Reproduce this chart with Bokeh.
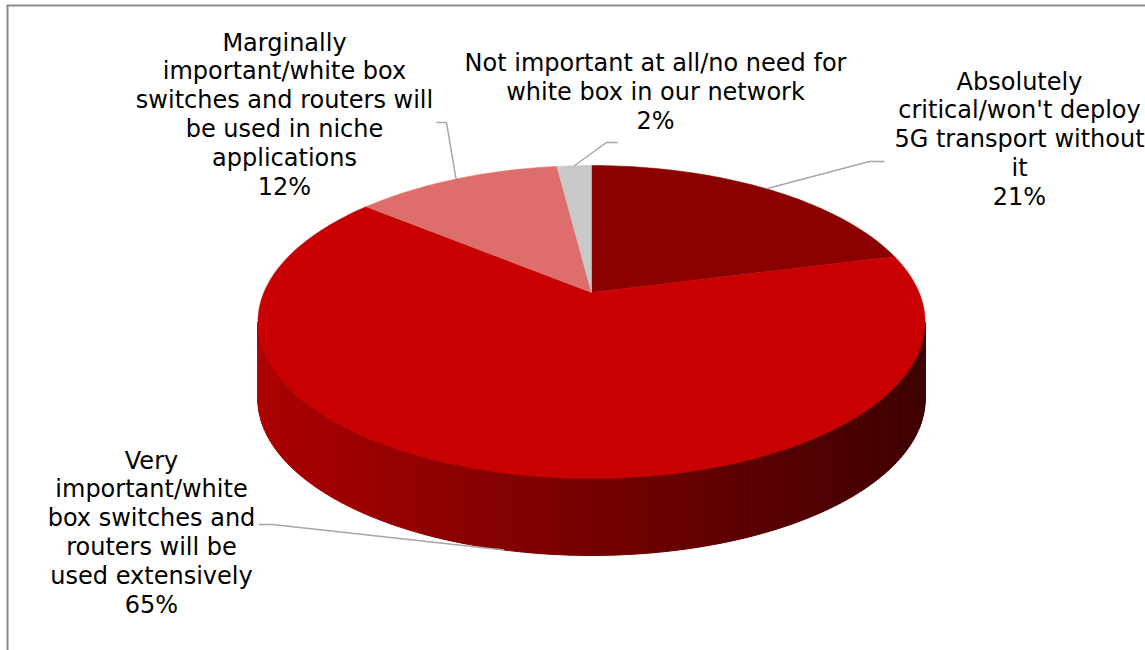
import numpy as np
from bokeh.plotting import figure
from bokeh.models import Range1d
from bokeh.core.properties import value
from bokeh.embed import file_html
from bokeh.resources import INLINE

# ---------------- data ----------------
categories = [
    "Absolutely critical/won't deploy 5G transport without it",
    "Very important/white box switches and routers will be used extensively",
    "Marginally important/white box switches and routers will be used in niche applications",
    "Not important at all/no need for white box in our network",
]
values = [21, 65, 12, 2]
slice_colors = ["#8B0000", "#C80000", "#DE6E6B", "#C8C8C8"]
label_lines = [
    ["Absolutely", "critical/won't deploy", "5G transport without", "it"],
    ["Very", "important/white", "box switches and", "routers will be", "used extensively"],
    ["Marginally", "important/white box", "switches and routers will", "be used in niche", "applications"],
    ["Not important at all/no need for", "white box in our network"],
]

# ---------------- layout / style ----------------
W, H = 1145, 650
CX, CY = 591.0, 292.0      # pie centre (screen pixels)
A, B, K = 327.6, 150.9, 0.1885   # perspective ellipse params
DEPTH = 77.0               # thickness of the pie
FONT = value("DejaVu Sans")
FS = "24px"
LH = 28.9
label_pos = [(1019, 81), (151, 460), (284, 42), (655, 62.5)]   # centre x, first baseline
elbows = [
    [(869, 161), (884, 161)],
    [(272, 524), (258, 524)],
    [(446, 122), (436, 122)],
    [(606, 142), (617, 142)],
]
anchor_on_bottom = [False, True, False, False]


def proj(theta_deg, drop=0.0):
    t = np.radians(np.asarray(theta_deg, dtype=float))
    u = np.sin(t)
    v = -np.cos(t)
    d = 1.0 - K * v
    return CX + A * u / d, CY + B * v / d + drop


p = figure(width=W, height=H, x_range=Range1d(0, W), y_range=Range1d(H, 0),
           output_backend="svg", toolbar_location=None, min_border=0,
           x_axis_type=None, y_axis_type=None, background_fill_color="white",
           border_fill_color="white", outline_line_color=None)
p.grid.visible = False

# border (top + left edges visible)
p.line([7, 7], [H, 5], line_color="#8C8C8C", line_width=2)
p.line([6, W], [5, 5], line_color="#8C8C8C", line_width=2)

total = float(sum(values))
cum = np.cumsum([0] + values) / total * 360.0
starts, ends = cum[:-1], cum[1:]

# ---------------- side face (front) with horizontal gradient ----------------
th_r = 180.0 - np.degrees(np.arcsin(np.sqrt(1 - K * K)))  # right extreme
th_l = 360.0 - th_r
N = 160
ts = np.linspace(th_r, th_l, N + 1)
xs, ys, cols = [], [], []
x_left, x_right = CX - A * 1.02, CX + A * 1.02
for i in range(N):
    a0, a1 = ts[i], ts[i + 1]
    tx0, ty0 = proj(a0)
    tx1, ty1 = proj(a1)
    bx0, by0 = proj(a0, DEPTH)
    bx1, by1 = proj(a1, DEPTH)
    xs.append([float(tx0), float(tx1), float(bx1), float(bx0)])
    ys.append([float(ty0), float(ty1), float(by1), float(by0)])
    xm = (tx0 + tx1) / 2
    f = (xm - x_left) / (x_right - x_left)
    f = min(max(f, 0), 1)
    r = int(round(172 - 110 * f))
    cols.append("#%02x0000" % r)
p.patches(xs, ys, fill_color=cols, line_color=cols, line_width=1)

# ---------------- top face slices ----------------
for s, e, c in zip(starts, ends, slice_colors):
    n = max(int((e - s) / 1.0), 4)
    th = np.linspace(s, e, n + 1)
    px, py = proj(th)
    p.patch([CX] + list(px) + [CX], [CY] + list(py) + [CY], fill_color=c, line_color=c,
            line_width=0.5)

# ---------------- leader lines + labels ----------------
for i, (s, e) in enumerate(zip(starts, ends)):
    mid = (s + e) / 2
    ax, ay = proj(mid, DEPTH if anchor_on_bottom[i] else 0.0)
    lx = [float(ax)] + [q[0] for q in elbows[i]]
    ly = [float(ay)] + [q[1] for q in elbows[i]]
    p.line(lx, ly, line_color="#A6A6A6", line_width=1.5)

    lines = label_lines[i] + [f"{values[i]}%"]
    cx, by = label_pos[i]
    p.text(x=[cx] * len(lines), y=[by + k * LH for k in range(len(lines))], text=lines,
           text_font=FONT, text_font_size=FS, text_align="center",
           text_baseline="alphabetic", text_color="#000000")

open("out.html", "w").write(file_html(p, INLINE))
